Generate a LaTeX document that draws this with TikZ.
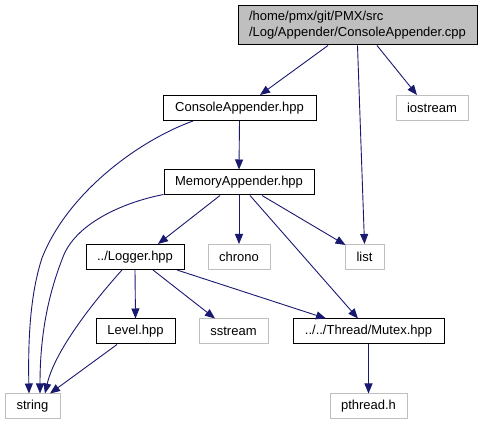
\documentclass[tikz,border=0pt]{standalone}
\usepackage{fontspec}
\setmainfont{Liberation Sans}
\usetikzlibrary{arrows.meta,calc}
\definecolor{edgeblue}{HTML}{191970}
\definecolor{extgray}{HTML}{BFBFBF}
\begin{document}
\begin{tikzpicture}[x=1pt,y=-1pt,
  base/.style={rectangle, inner sep=0pt, minimum height=25pt, font=\fontsize{13}{16}\selectfont},
  doc/.style={base, draw=black, line width=1pt},
  ext/.style={base, draw=extgray, line width=1pt},
  edge/.style={draw=edgeblue, line width=0.9pt, -{Triangle[length=10pt,width=8pt]}}]
\useasboundingbox (0,0) rectangle (483,425);
\node[doc, fill=extgray, minimum width=239pt, minimum height=39pt, align=left] (top) at (357.5,25.5) {/home/pmx/git/PMX/src\\/Log/Appender/ConsoleAppender.cpp};
\node[doc, minimum width=153pt] (cons) at (239.5,108) {ConsoleAppender.hpp};
\node[ext, minimum width=72pt] (ios) at (432,108) {iostream};
\node[doc, minimum width=150pt] (mem) at (239,182.5) {MemoryAppender.hpp};
\node[doc, minimum width=98pt] (log) at (135,257) {../Logger.hpp};
\node[ext, minimum width=62pt] (chrono) at (239,257) {chrono};
\node[ext, minimum width=39pt] (list) at (364.5,257) {list};
\node[doc, minimum width=79pt] (level) at (135.5,331.5) {Level.hpp};
\node[ext, minimum width=69pt] (sstream) at (233.5,331.5) {sstream};
\node[doc, minimum width=151pt] (mutex) at (368.5,331.5) {../../Thread/Mutex.hpp};
\node[ext, minimum width=55pt] (string) at (32.5,406.5) {string};
\node[ext, minimum width=77pt] (pthread) at (368.5,406.5) {pthread.h};

\draw[edge] ($(top.south)+(-29.5,0)$) -- ($(cons.north)+(20.5,0)$);
\draw[edge] (top.south) -- (list.north);
\draw[edge] ($(top.south)+(19.5,0)$) -- ($(ios.north)+(-15,0)$);
\draw[edge] (cons.south) -- (mem.north);
\draw[edge] ($(cons.south)+(-46.5,0)$) .. controls (140,140) and (68,192) .. (42,258) .. controls (30,295) and (28,340) .. ($(string.north)+(-3.5,0)$);
\draw[edge] (mem.south) -- (chrono.north);
\draw[edge] ($(mem.south)+(-19,0)$) -- ($(log.north)+(23,0)$);
\draw[edge] ($(mem.south)+(23,0)$) -- ($(list.north west)+(1,1)$);
\draw[edge] ($(mem.south)+(11,0)$) -- ($(mutex.north)+(-10.5,0)$);
\draw[edge] ($(mem.south west)+(0,-1)$) .. controls (120,203) and (75,225) .. (63,257) .. controls (50,290) and (40,330) .. ($(string.north)+(7.5,0)$);
\draw[edge] (log.south) -- (level.north);
\draw[edge] ($(log.south)+(18,0)$) -- ($(sstream.north)+(-18.5,0)$);
\draw[edge] ($(log.south)+(42,0)$) -- ($(mutex.north)+(-42.5,0)$);
\draw[edge] ($(log.south)+(-13,0)$) .. controls (95,300) and (55,350) .. ($(string.north)+(12.5,0)$);
\draw[edge] ($(level.south)+(-18.5,0)$) -- ($(string.north)+(17.5,0)$);
\draw[edge] (mutex.south) -- (pthread.north);
\end{tikzpicture}
\end{document}
